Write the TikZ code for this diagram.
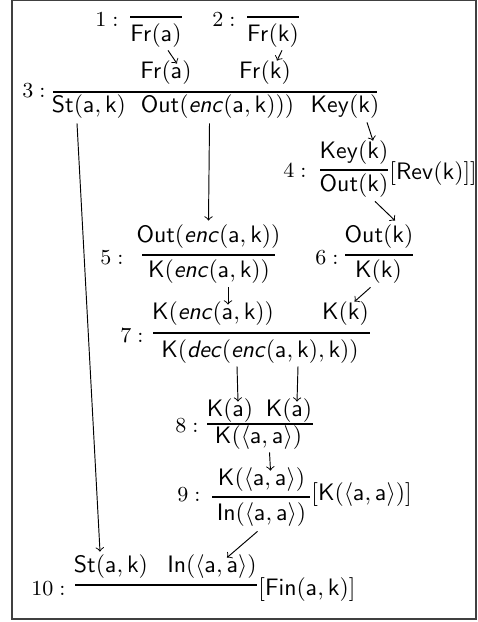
\documentclass[tikz,border=0pt]{standalone}
\usepackage{amsmath}
\usepackage{tikz}
\usetikzlibrary{arrows,calc,positioning}

\newcommand{\enc}{\textsf{\textit{enc}}}
\newcommand{\dec}{\textsf{\textit{dec}}}

\begin{document}
\begin{tikzpicture}[x=0.42pt,y=-0.42pt,
fml/.style={inner sep=0pt},
lbl/.style={inner sep=0pt,anchor=east,font=\small},
side/.style={inner sep=0pt,anchor=west},
bar/.style={line width=0.45pt},
dep/.style={->}]
\useasboundingbox (0,0) rectangle (477,622);
\draw[black!75,line width=0.6pt] (12,0.7) rectangle (476,619);

\node[lbl] (l1) at (119,20) {$1:$};
\draw[bar] (130,17) -- (182,17);
\node[fml] (c1) at (156,36) {$\mathsf{Fr(a)}$};

\node[lbl] (l2) at (236,20) {$2:$};
\draw[bar] (247,17) -- (299,17);
\node[fml] (c2) at (273,36) {$\mathsf{Fr(k)}$};

\node[fml] (p3a) at (166,73) {$\mathsf{Fr(a)}$};
\node[fml] (p3b) at (265,73) {$\mathsf{Fr(k)}$};
\node[lbl] (l3) at (46,91) {$3:$};
\draw[bar] (53,92) -- (377,92);
\node[fml] (c3a) at (89,107) {$\mathsf{St(a,k)}$};
\node[fml] (c3b) at (217.5,107) {$\mathsf{Out(\enc(a,k)))}$};
\node[fml] (c3c) at (345,107) {$\mathsf{Key(k)}$};

\node[fml] (p4) at (354,153) {$\mathsf{Key(k)}$};
\node[lbl] (l4) at (307,171) {$4:$};
\draw[bar] (320,170) -- (388,170);
\node[fml] (c4) at (354,186) {$\mathsf{Out(k)}$};
\node[side] (s4) at (389,174) {$\mathsf{[Rev(k)]]}$};

\node[fml] (p5) at (208.5,237) {$\mathsf{Out(\enc(a,k))}$};
\node[lbl] (l5) at (124,258) {$5:$};
\draw[bar] (142,255) -- (275,255);
\node[fml] (c5) at (209,272) {$\mathsf{K(\enc(a,k))}$};

\node[fml] (p6) at (379,237) {$\mathsf{Out(k)}$};
\node[lbl] (l6) at (339,258) {$6:$};
\draw[bar] (345,255) -- (413,255);
\node[fml] (c6) at (378.5,272) {$\mathsf{K(k)}$};

\node[fml] (p7a) at (213,314) {$\mathsf{K(\enc(a,k))}$};
\node[fml] (p7b) at (345.5,314) {$\mathsf{K(k)}$};
\node[lbl] (l7) at (144,336) {$7:$};
\draw[bar] (153,333) -- (370,333);
\node[fml] (c7) at (260,352) {$\mathsf{K(\dec(\enc(a,k),k))}$};

\node[fml] (p8a) at (230,411) {$\mathsf{K(a)}$};
\node[fml] (p8b) at (289,411) {$\mathsf{K(a)}$};
\node[lbl] (l8) at (199,426) {$8:$};
\draw[bar] (207,424) -- (313,424);
\node[fml] (c8) at (258.5,438) {$\mathsf{K(\langle a,a\rangle)}$};

\node[fml] (p9) at (261.5,480) {$\mathsf{K(\langle a,a\rangle)}$};
\node[lbl] (l9) at (201,495) {$9:$};
\draw[bar] (212,497) -- (310,497);
\node[fml] (c9) at (261.5,515) {$\mathsf{In(\langle a,a\rangle)}$};
\node[side] (s9) at (311,495) {$\mathsf{[K(\langle a,a\rangle)]}$};

\node[fml] (p10a) at (111,567) {$\mathsf{St(a,k)}$};
\node[fml] (p10b) at (212,567) {$\mathsf{In(\langle a,a\rangle)}$};
\node[lbl] (l10) at (66,589) {$10:$};
\draw[bar] (75,585) -- (257,585);
\node[side] (s10) at (258,590) {$\mathsf{[Fin(a,k)]}$};

\draw[dep] ([shift={(12,2)}]c1.south) -- ([shift={(11,3)}]p3a.north);
\draw[dep] ([shift={(9,2)}]c2.south) -- ([shift={(12,0)}]p3b.north);
\draw[dep] ([shift={(-12,4)}]c3a.south) -- ([shift={(-11,-3)}]p10a.north);
\draw[dep] ([shift={(-8,4)}]c3b.south) -- ([shift={(0,-4)}]p5.north);
\draw[dep] ([shift={(22,3)}]c3c.south) -- ([shift={(19,0)}]p4.north);
\draw[dep] ([shift={(21,3)}]c4.south) -- ([shift={(16,-4)}]p6.north);
\draw[dep] ([shift={(19,3)}]c5.south) -- ([shift={(15,3)}]p7a.north);
\draw[dep] ([shift={(-8,3)}]c6.south) -- ([shift={(9,0)}]p7b.north);
\draw[dep] ([shift={(-23,2)}]c7.south) -- ([shift={(8,3)}]p8a.north);
\draw[dep] ([shift={(38,2)}]c7.south) -- ([shift={(8,3)}]p8b.north);
\draw[dep] ([shift={(11,2)}]c8.south) -- ([shift={(9,3)}]p9.north);
\draw[dep] ([shift={(-4,4)}]c9.south) -- ([shift={(15,3)}]p10b.north);
\end{tikzpicture}
\end{document}
